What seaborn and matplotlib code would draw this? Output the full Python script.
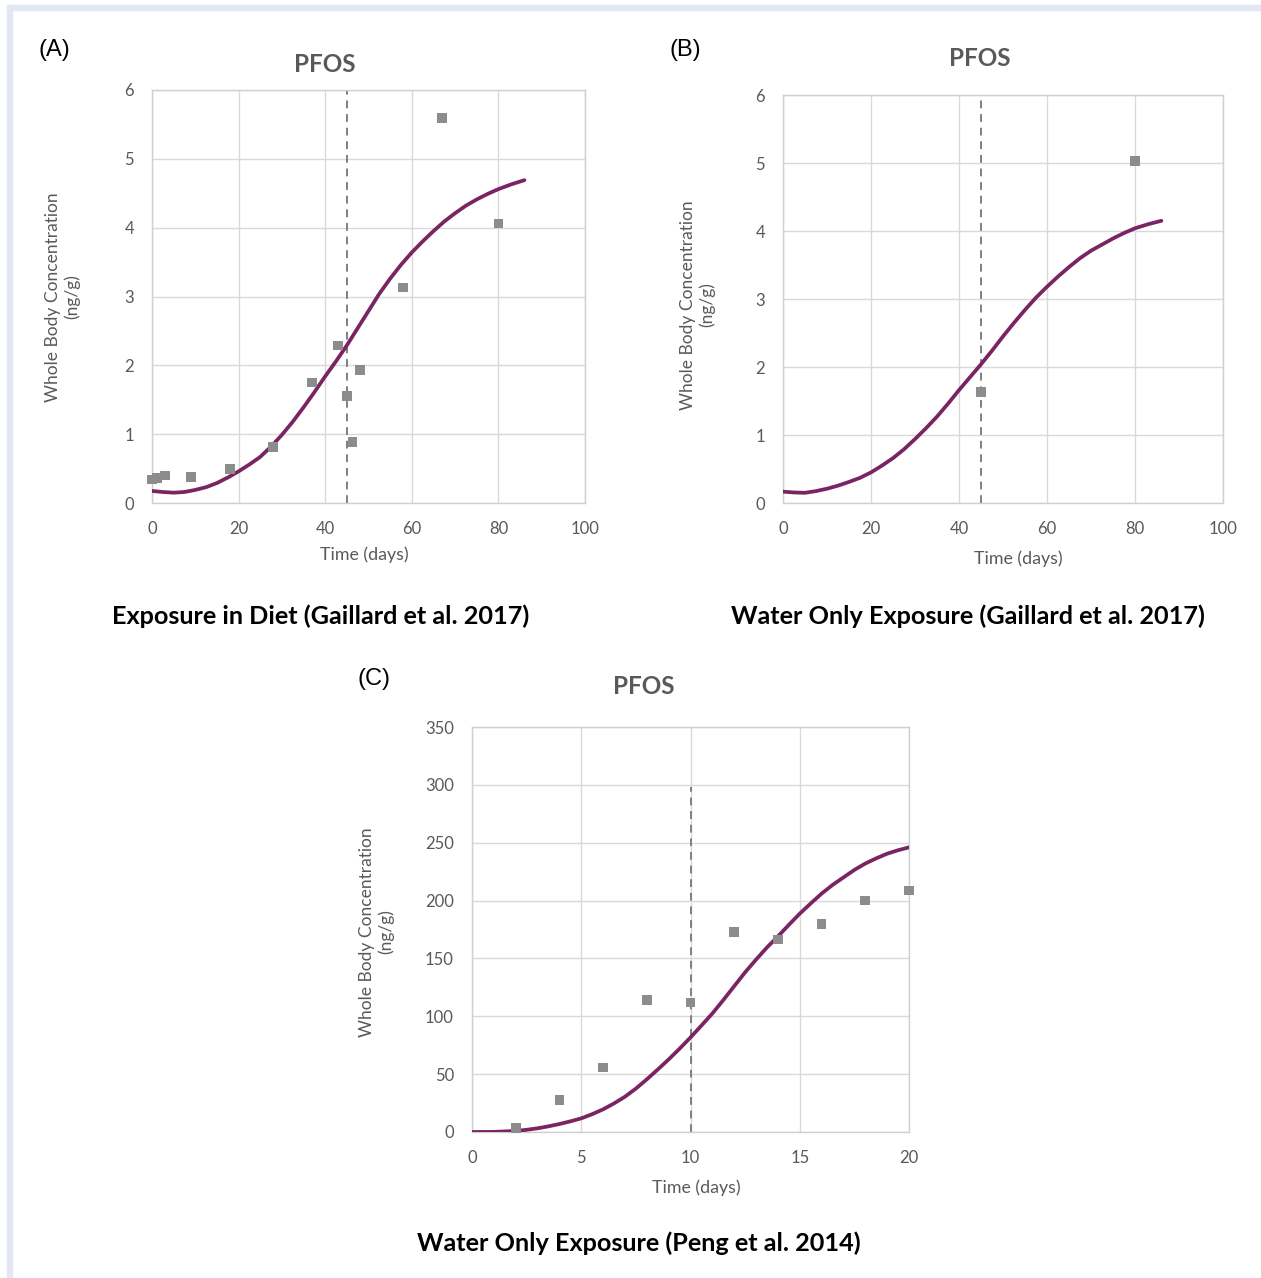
import numpy as np
import pandas as pd
import matplotlib
matplotlib.use("Agg")
import matplotlib.pyplot as plt
import seaborn as sns
from matplotlib.patches import Rectangle

W, H = 1261, 1278

# ---- Panel A: exposure in diet (Gaillard et al. 2017)
a_days = [0, 1.2, 3, 9, 18, 28, 37, 43, 45, 46.3, 48, 58, 67, 80]
a_conc = [0.34, 0.36, 0.40, 0.38, 0.49, 0.81, 1.75, 2.29, 1.55, 0.89, 1.93, 3.13, 5.59, 4.06]
a_fit_days = [0, 2.5, 5, 7.5, 10, 12.5, 15, 17.5, 20, 22.5, 25, 27.5, 30, 32.5, 35, 37.5, 40, 42.5,
              45, 47.5, 50, 52.5, 55, 57.5, 60, 62.5, 65, 67.5, 70, 72.5, 75, 77.5, 80, 83, 86]
a_fit_conc = [0.175, 0.16, 0.15, 0.16, 0.19, 0.23, 0.29, 0.37, 0.46, 0.56, 0.67, 0.82, 0.99, 1.18,
              1.39, 1.61, 1.84, 2.06, 2.29, 2.54, 2.79, 3.04, 3.26, 3.46, 3.64, 3.80, 3.95, 4.09,
              4.21, 4.32, 4.41, 4.49, 4.56, 4.63, 4.69]

# ---- Panel B: water only exposure (Gaillard et al. 2017)
b_days = [45, 80]
b_conc = [1.63, 5.03]
b_fit_days = [0, 2.5, 5, 7.5, 10, 12.5, 15, 17.5, 20, 22.5, 25, 27.5, 30, 32.5, 35, 37.5, 40, 42.5,
              45, 47.5, 50, 52.5, 55, 57.5, 60, 62.5, 65, 67.5, 70, 72.5, 75, 77.5, 80, 83, 86]
b_fit_conc = [0.167, 0.155, 0.15, 0.175, 0.21, 0.255, 0.31, 0.37, 0.45, 0.55, 0.66, 0.79, 0.94, 1.10,
              1.27, 1.46, 1.66, 1.85, 2.04, 2.24, 2.45, 2.65, 2.84, 3.02, 3.18, 3.33, 3.47, 3.60,
              3.71, 3.80, 3.89, 3.97, 4.04, 4.10, 4.15]

# ---- Panel C: water only exposure (Peng et al. 2014)
c_days = [2, 4, 6, 8, 10, 12, 14, 16, 18, 20]
c_conc = [3.7, 27.6, 55.6, 114, 112, 173, 166.5, 180, 200, 208.6]
c_fit_days = [0, 1, 2, 2.5, 3, 3.5, 4, 4.5, 5, 5.5, 6, 6.5, 7, 7.5, 8, 8.5, 9, 9.5, 10, 10.5, 11,
              11.5, 12, 12.5, 13, 13.5, 14, 14.5, 15, 15.5, 16, 16.5, 17, 17.5, 18, 18.5, 19, 19.5, 20]
c_fit_conc = [0, 0.1, 0.9, 1.9, 3.2, 4.9, 6.9, 9.2, 11.8, 15.4, 19.6, 24.7, 30.5, 37.5, 45.5, 54,
              62.7, 72, 81.7, 92, 102.4, 114, 126, 138, 149, 159.5, 169, 179, 188.7, 197.5, 206,
              213.5, 220, 226.5, 232, 236.5, 240.5, 243.5, 246]

sns.set_theme(style="whitegrid")
plt.rcParams['font.family'] = ['Lato', 'DejaVu Sans']

GRAY_TXT = '#595959'
CURVE = '#7b2463'
MARK = '#8c8c8c'

fig = plt.figure(figsize=(W / 100, H / 100), dpi=100)
fig.patch.set_facecolor('white')

# light lavender page border (top and left)
fig.patches.append(Rectangle((7 / W, 0), 5 / W, 1 - 5 / H, transform=fig.transFigure,
                             color='#e3e6f3', zorder=0))
fig.patches.append(Rectangle((7 / W, 1 - 10 / H), 1 - 7 / W, 5 / H, transform=fig.transFigure,
                             color='#e3e6f3', zorder=0))


def px(x, y):
    return x / W, 1 - y / H


def make_axes(l, t, r, b):
    return fig.add_axes([l / W, 1 - b / H, (r - l) / W, (b - t) / H])


def panel(ax, days, conc, fdays, fconc, vline, vtop, xlim, xticks, ylim, yticks):
    sns.lineplot(x=fdays, y=fconc, ax=ax, color=CURVE, lw=2.7, zorder=3,
                 solid_joinstyle='round', solid_capstyle='round')
    sns.scatterplot(x=days, y=conc, ax=ax, marker='s', color=MARK, s=48,
                    edgecolor='none', zorder=4, clip_on=False)
    ax.plot([vline, vline], [ylim[0], vtop], color='#7f7f7f', lw=1.4,
            ls=(0, (4, 3)), zorder=2)
    ax.set_xlim(*xlim)
    ax.set_ylim(*ylim)
    ax.set_xticks(xticks)
    ax.set_yticks(yticks)
    ax.grid(True, color='#d9d9d9', lw=1)
    for s in ax.spines.values():
        s.set_color('#d0d0d0')
        s.set_linewidth(1)
    ax.tick_params(axis='both', length=0, labelsize=12, labelcolor=GRAY_TXT)
    ax.tick_params(axis='y', pad=13)
    ax.tick_params(axis='x', pad=13)
    ax.set_xlabel('')
    ax.set_ylabel('')


axA = make_axes(152, 90, 585, 503)
panel(axA, a_days, a_conc, a_fit_days, a_fit_conc, 45, 6, (0, 100), range(0, 101, 20),
      (0, 6), range(0, 7))
axB = make_axes(783, 95, 1223, 503)
panel(axB, b_days, b_conc, b_fit_days, b_fit_conc, 45, 6, (0, 100), range(0, 101, 20),
      (0, 6), range(0, 7))
axC = make_axes(472, 727, 909, 1132)
panel(axC, c_days, c_conc, c_fit_days, c_fit_conc, 10, 298, (0, 20), range(0, 21, 5),
      (0, 350), range(0, 351, 50))

ylab = 'Whole Body Concentration\n(ng/g)'
for (lx, ly), (xx, xy), (tx, ty), (cx, cy), caption, (tagx, tagy), tag in [
    ((63, 297), (364, 555), (325, 65), (321, 616), 'Exposure in Diet (Gaillard et al. 2017)', (54, 50), '(A)'),
    ((698, 305), (1018, 559), (980, 58), (968, 616), 'Water Only Exposure (Gaillard et al. 2017)', (685, 50), '(B)'),
    ((377, 932), (696, 1188), (644, 687), (639, 1243), 'Water Only Exposure (Peng et al. 2014)', (374, 679), '(C)'),
]:
    fig.text(*px(lx, ly), ylab, rotation=90, ha='center', va='center',
             fontsize=12.5, color=GRAY_TXT, linespacing=1.2)
    fig.text(*px(xx, xy), 'Time (days)', ha='center', va='center', fontsize=12.8, color=GRAY_TXT)
    fig.text(*px(tx, ty), 'PFOS', ha='center', va='center', fontsize=17.5,
             fontweight='bold', color=GRAY_TXT)
    fig.text(*px(cx, cy), caption, ha='center', va='center', fontsize=18.2,
             fontweight='bold', color='black')
    fig.text(*px(tagx, tagy), tag, ha='center', va='center', fontsize=17,
             color='black', family=['Liberation Sans', 'DejaVu Sans'])

fig.savefig('out.png', dpi=100, facecolor='white')
